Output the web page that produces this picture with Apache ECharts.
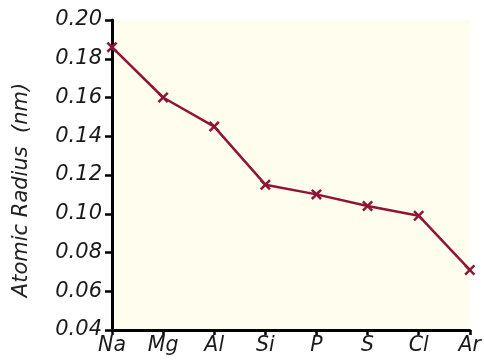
<!DOCTYPE html>
<html>
<head>
<meta charset="utf-8">
<script src="https://cdn.jsdelivr.net/npm/echarts@6/dist/echarts.min.js"></script>
<style>
html,body{margin:0;padding:0;background:#fff;}
#chart{width:484px;height:361px;}
</style>
</head>
<body>
<div id="chart"></div>
<script>
// Period 3 elements and their atomic radii (nm)
var elements = ['Na', 'Mg', 'Al', 'Si', 'P', 'S', 'Cl', 'Ar'];
var radii = [0.186, 0.160, 0.145, 0.115, 0.110, 0.104, 0.099, 0.071];
var yTicks = [0.04, 0.06, 0.08, 0.10, 0.12, 0.14, 0.16, 0.18, 0.20];

var FONT = '"DejaVu Sans"';
// small "x" marker drawn as a filled outline
var crossPath = 'path://M1.6,0L5,3.4L8.4,0L10,1.6L6.6,5L10,8.4L8.4,10L5,6.6L1.6,10L0,8.4L3.4,5L0,1.6Z';

var chart = echarts.init(document.getElementById('chart'));
chart.setOption({
  animation: false,
  grid: {
    left: 112, right: 13, top: 20, bottom: 31,
    show: true, backgroundColor: '#FFFDEE', borderWidth: 0
  },
  xAxis: {
    type: 'category',
    data: elements,
    boundaryGap: false,
    axisLine: { lineStyle: { color: '#000', width: 3 } },
    axisTick: { show: true, length: 5, alignWithLabel: true, lineStyle: { color: '#000', width: 2.5 } },
    axisLabel: { color: '#1a1a1a', fontFamily: FONT, fontStyle: 'italic', fontSize: 20.5, margin: 6 },
    splitLine: { show: false }
  },
  yAxis: {
    type: 'value',
    min: yTicks[0],
    max: yTicks[yTicks.length - 1],
    interval: 0.02,
    name: 'Atomic Radius  (nm)',
    nameLocation: 'middle',
    nameGap: 80,
    nameTextStyle: {
      color: '#222', fontFamily: FONT, fontStyle: 'italic', fontSize: 21,
      padding: [0, 30, 0, 0]
    },
    axisLine: { show: true, lineStyle: { color: '#000', width: 3 } },
    axisTick: { show: true, length: 7, lineStyle: { color: '#000', width: 2.5 } },
    axisLabel: {
      color: '#1a1a1a', fontFamily: FONT, fontStyle: 'italic', fontSize: 21, margin: 10,
      formatter: function (v) { return v.toFixed(2); }
    },
    splitLine: { show: false }
  },
  series: [{
    type: 'line',
    data: radii,
    symbol: crossPath,
    symbolSize: 11,
    lineStyle: { color: '#8E1537', width: 2.5 },
    itemStyle: { color: '#8E1537' }
  }]
});
</script>
</body>
</html>
